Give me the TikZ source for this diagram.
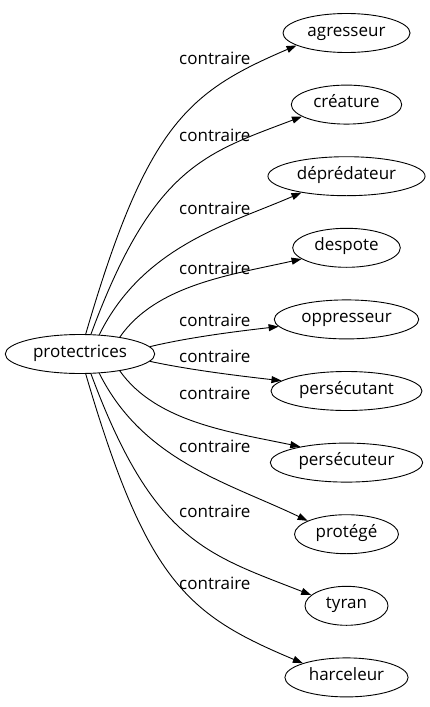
\documentclass[tikz,border=0pt]{standalone}
\usepackage{fontspec}
\setmainfont{Open Sans}
\usetikzlibrary{arrows.meta,shapes.geometric}
\begin{document}
\begin{tikzpicture}[x=1pt,y=-1pt,
  word/.style={draw, ellipse, line width=0.9pt, inner xsep=5.9pt, inner ysep=0pt,
    minimum height=39pt, minimum width=83pt, text height=12pt, text depth=6pt,
    font=\fontsize{17}{20}\selectfont},
  rel/.style={-{Triangle[length=10pt,width=7pt]}, line width=0.9pt},
  lab/.style={anchor=base west, inner sep=0pt, font=\fontsize{17}{20}\selectfont}]
\useasboundingbox (0,0) rectangle (429,707);
\node[word] (p) at (80,354) {protectrices};
\node[word] (n1) at (346.5,33) {agresseur};
\node[word] (n2) at (346.5,104.6) {créature};
\node[word] (n3) at (346.5,176.2) {déprédateur};
\node[word] (n4) at (346.5,247.8) {despote};
\node[word] (n5) at (346.5,319.4) {oppresseur};
\node[word] (n6) at (346.5,391) {persécutant};
\node[word] (n7) at (346.5,462.6) {persécuteur};
\node[word] (n8) at (346.5,534.2) {protégé};
\node[word] (n9) at (346.5,605.8) {tyran};
\node[word] (n10) at (346.5,677.4) {harceleur};
\draw[rel] (p.74) .. controls (147,124) and (188,92) .. (n1.194);
\draw[rel] (p.61) .. controls (153,166) and (206,153) .. (n2.195);
\draw[rel] (p.45) .. controls (143,246) and (229,224) .. (n3.200);
\draw[rel] (p.23) .. controls (156,285) and (230,275) .. (n4.194);
\draw[rel] (p.6) .. controls (190,337) and (240,331) .. (n5.186);
\draw[rel] (p.-6) .. controls (190,370) and (240,376) .. (n6.171);
\draw[rel] (p.-23) .. controls (156,422) and (230,432) .. (n7.161);
\draw[rel] (p.-45) .. controls (143,461) and (229,483) .. (n8.161);
\draw[rel] (p.-61) .. controls (153,541) and (206,554) .. (n9.163);
\draw[rel] (p.-74) .. controls (147,583) and (188,615) .. (n10.162);
\node[lab] (l1) at (179,64) {contraire};
\node[lab] (l2) at (179,141) {contraire};
\node[lab] (l3) at (179,214) {contraire};
\node[lab] (l4) at (179,274) {contraire};
\node[lab] (l5) at (179,326) {contraire};
\node[lab] (l6) at (179,362) {contraire};
\node[lab] (l7) at (179,399) {contraire};
\node[lab] (l8) at (179,452) {contraire};
\node[lab] (l9) at (179,517) {contraire};
\node[lab] (l10) at (179,589) {contraire};
\end{tikzpicture}
\end{document}
